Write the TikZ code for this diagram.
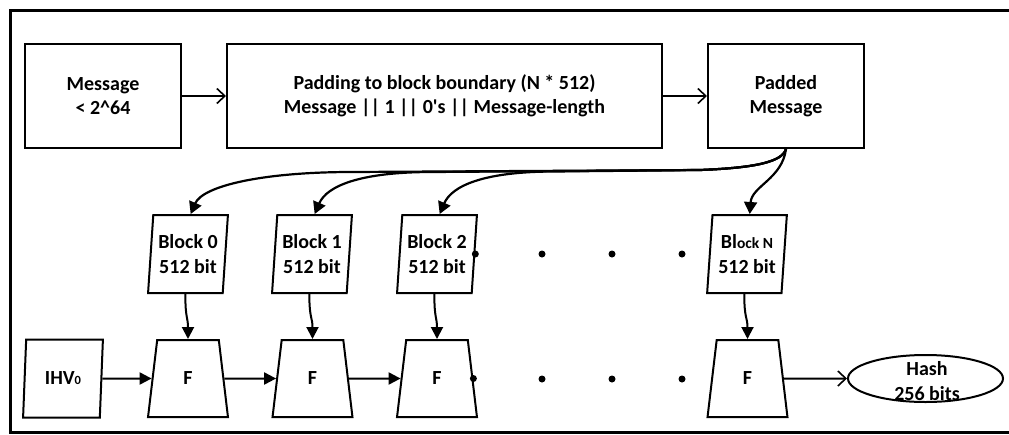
\documentclass[tikz,border=0pt]{standalone}
\usepackage{fontspec}
\setmainfont{Carlito}
\usetikzlibrary{arrows.meta,shapes.geometric}
\begin{document}
\begin{tikzpicture}[x=1pt,y=-1pt,
  every node/.style={font=\bfseries\fontsize{20}{24.4}\selectfont, align=center, inner sep=0pt},
  box/.style={draw, line width=2pt, minimum height=104pt},
  blk/.style={draw, line width=2pt, trapezium, trapezium stretches=true,
    trapezium left angle=83.4, trapezium right angle=96.6,
    minimum width=80pt, minimum height=78pt},
  fun/.style={draw, line width=2pt, trapezium, trapezium stretches=true,
    trapezium left angle=84, trapezium right angle=84,
    minimum width=80pt, minimum height=77pt},
  barb/.style={line width=2pt, -{Straight Barb[length=8pt,width=15pt,line width=1.6pt]}},
  tri/.style={line width=2pt, -{Triangle[length=12pt,width=12pt]}},
  feed/.style={line width=2.2pt, -{Triangle[length=12pt,width=13pt]}},
  dot/.style={circle, fill, minimum size=7pt}
]
\useasboundingbox (0,0) rectangle (1009,434);
\fill[white] (0,0) rectangle (1009,434);
\draw[line width=3pt] (10,10) rectangle (1020,432);

% top row
\node[box, minimum width=156pt] (msg) at (103,96) {Message\\< 2\textasciicircum 64};
\node[box, minimum width=435pt] (pad) at (444.5,96) {Padding to block boundary (N * 512)\\Message || 1 || 0\textquotesingle s || Message-length};
\node[box, minimum width=156pt] (pm) at (786,96) {Padded\\Message};
\draw[barb] (msg.east) -- (pad.west);
\draw[barb] (pad.east) -- (pm.west);

% blocks
\node[blk] (b0) at (188,254) {Block 0\\512 bit};
\node[blk] (b1) at (312,254) {Block 1\\512 bit};
\node[blk] (b2) at (437,254) {Block 2\\512 bit};
\node[blk] (bN) at (747,254) {Bl{\fontsize{15.5}{24.4}\selectfont ock N}\\512 bit};

% compression functions
\node[blk] (ihv) at (63,378.5) {IHV{\fontsize{12.5}{24.4}\selectfont 0}};
\node[fun] (f1) at (188,378.5) {F};
\node[fun] (f2) at (312.5,378.5) {F};
\node[fun] (f3) at (437,378.5) {F};
\node[fun] (fN) at (747.5,378.5) {F};
\node[ellipse, draw, line width=2pt, minimum width=155pt, minimum height=47pt] (hash) at (925.5,378.5) {};
\node (hashtxt) at (927,381) {Hash\\256 bits};

% feeds from padded message
\draw[feed] (pm.south) .. controls +(-4,14) and +(50,-2) .. (700,170) -- (352,172)
  .. controls +(-90,0) and +(12,-28) .. (b0.top side);
\draw[feed] (pm.south) .. controls +(-4,14) and +(50,-2) .. (700,170) -- (432,172)
  .. controls +(-72,0) and +(12,-28) .. (b1.top side);
\draw[feed] (pm.south) .. controls +(-4,14) and +(50,-2) .. (700,170) -- (555,171.5)
  .. controls +(-72,0) and +(12,-28) .. (b2.top side);
\draw[feed] (pm.south) .. controls +(-4,30) and +(2,-28) .. (bN.top side);

% blocks into F
\draw[tri] (b0.bottom side) .. controls +(0,25) and +(0,-22) .. (f1.top side);
\draw[tri] (b1.bottom side) .. controls +(0,25) and +(0,-22) .. (f2.top side);
\draw[tri] (b2.bottom side) .. controls +(0,25) and +(0,-22) .. (f3.top side);
\draw[tri] (bN.bottom side) .. controls +(0,25) and +(0,-22) .. (fN.top side);

% chain
\draw[tri] (ihv) -- (f1);
\draw[tri] (f1) -- (f2);
\draw[tri] (f2) -- (f3);
\draw[barb] (fN) -- (hash);

% ellipsis dots
\node[dot] (db0) at (b2.right side) {};
\node[dot] (db1) at (542,254) {};
\node[dot] (db2) at (612,254) {};
\node[dot] (db3) at (682,254) {};
\node[dot] (df0) at (f3.right side) {};
\node[dot] (df1) at (542,379) {};
\node[dot] (df2) at (612,379) {};
\node[dot] (df3) at (682,379) {};
\end{tikzpicture}
\end{document}
